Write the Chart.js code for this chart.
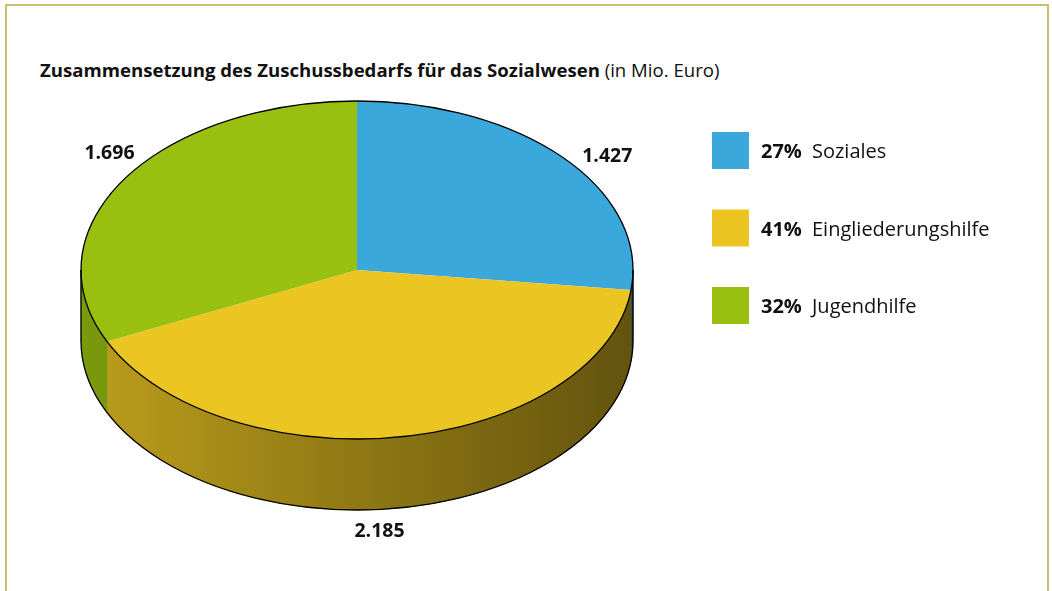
<!DOCTYPE html>
<html><head><meta charset="utf-8">
<script src="https://cdn.jsdelivr.net/npm/chart.js@4.4.1/dist/chart.umd.min.js"></script>
<style>
html,body{margin:0;padding:0;background:#fff;width:1052px;height:591px;overflow:hidden;}
#frame{position:absolute;left:5px;top:4px;width:1044px;height:640px;border:2px solid #cdbf72;box-sizing:border-box;}
#title{position:absolute;left:40px;top:57px;font-family:"Open Sans",sans-serif;font-size:18.6px;color:#111;white-space:nowrap;}
#title b{font-weight:700}
#c{position:absolute;left:0;top:0;}
</style></head>
<body>
<div id="frame"></div>
<div id="title"><b>Zusammensetzung des Zuschussbedarfs für das Sozialwesen</b> (in Mio. Euro)</div>
<canvas id="c" width="1052" height="591"></canvas>
<script>
// ---- data ----
const categories = ['Soziales', 'Eingliederungshilfe', 'Jugendhilfe'];
const values = [1427, 2185, 1696];
const colors = ['#3aa8db', '#ebc522', '#99c010'];

// ---- helpers ----
const total = values.reduce((a, b) => a + b, 0);
const fmt = v => String(v).replace(/\B(?=(\d{3})+(?!\d))/g, '.');
const pct = v => Math.round(v / total * 100) + '%';
function shade(hex, f) {
  const n = parseInt(hex.slice(1), 16);
  const r = Math.round(((n >> 16) & 255) * f), g = Math.round(((n >> 8) & 255) * f), b = Math.round((n & 255) * f);
  return `rgb(${r},${g},${b})`;
}

const TILT = 169 / 276;   // vertical squash of the pie
const DEPTH = 71;         // thickness of the 3D wall
const FONT = '"Open Sans", sans-serif';
const LABEL_R = 1.13;     // label distance (relative to the ellipse)
const LABEL_SHIFT = 0.087; // small clockwise shift of label angle

const pie3d = {
  id: 'pie3d',
  beforeDatasetsDraw(chart) {
    const ctx = chart.ctx;
    const arcs = chart.getDatasetMeta(0).data;
    const cx = arcs[0].x, cy = arcs[0].y, rx = arcs[0].outerRadius, ry = rx * TILT;
    // side walls (visible for angles in [0, PI])
    arcs.forEach((a, i) => {
      for (const k of [-2, 0, 2]) {
        const lo = k * Math.PI, hi = lo + Math.PI;
        const s = Math.max(a.startAngle, lo), e = Math.min(a.endAngle, hi);
        if (e <= s) continue;
        const g = ctx.createLinearGradient(cx - rx, 0, cx + rx, 0);
        g.addColorStop(0, shade(colors[i], 0.80));
        g.addColorStop(1, shade(colors[i], 0.42));
        ctx.save();
        ctx.beginPath();
        ctx.ellipse(cx, cy, rx, ry, 0, s, e, false);
        ctx.ellipse(cx, cy + DEPTH, rx, ry, 0, e, s, true);
        ctx.closePath();
        ctx.fillStyle = g;
        ctx.fill();
        ctx.strokeStyle = g; ctx.lineWidth = 0.6; ctx.stroke();
        ctx.restore();
      }
    });
    // squash the top face
    ctx.save();
    ctx.translate(cx, cy);
    ctx.scale(1, TILT);
    ctx.translate(-cx, -cy);
  },
  afterDatasetsDraw(chart) {
    const ctx = chart.ctx;
    ctx.restore();
    const arcs = chart.getDatasetMeta(0).data;
    const cx = arcs[0].x, cy = arcs[0].y, rx = arcs[0].outerRadius, ry = rx * TILT;
    // outlines
    ctx.save();
    ctx.strokeStyle = '#000';
    ctx.lineWidth = 1.3;
    ctx.beginPath();
    ctx.ellipse(cx, cy, rx, ry, 0, 0, Math.PI * 2);
    ctx.stroke();
    ctx.beginPath();
    ctx.moveTo(cx + rx, cy);
    ctx.lineTo(cx + rx, cy + DEPTH);
    ctx.ellipse(cx, cy + DEPTH, rx, ry, 0, 0, Math.PI, false);
    ctx.lineTo(cx - rx, cy);
    ctx.stroke();
    ctx.restore();
    // value labels
    ctx.save();
    ctx.fillStyle = '#111';
    ctx.font = 'bold 19.5px ' + FONT;
    ctx.textAlign = 'center';
    ctx.textBaseline = 'middle';
    arcs.forEach((a, i) => {
      const m = (a.startAngle + a.endAngle) / 2 + LABEL_SHIFT;
      const c = Math.cos(m), s = Math.sin(m);
      const x = cx + rx * LABEL_R * c;
      const y = cy + ry * LABEL_R * s + (s > 0 ? DEPTH : 0);
      ctx.fillText(fmt(values[i]), x, y);
    });
    ctx.restore();
    // legend
    ctx.save();
    ctx.textBaseline = 'middle';
    categories.forEach((name, i) => {
      const yc = 150.5 + i * 77.5;
      ctx.fillStyle = colors[i];
      ctx.fillRect(712, yc - 18.5, 37, 37);
      ctx.fillStyle = '#111';
      ctx.font = 'bold 20px ' + FONT;
      ctx.fillText(pct(values[i]), 761, yc + 2);
      ctx.font = '20px ' + FONT;
      ctx.fillText(name, 812, yc + 2);
    });
    ctx.restore();
  }
};

new Chart(document.getElementById('c'), {
  type: 'pie',
  data: {
    labels: categories,
    datasets: [{ data: values, backgroundColor: colors, borderWidth: 0, hoverOffset: 0, clip: false }]
  },
  options: {
    responsive: false,
    animation: false,
    events: [],
    radius: 276,
    layout: { padding: { left: 81, right: 419, top: 0, bottom: 51 } },
    plugins: { legend: { display: false }, tooltip: { enabled: false } }
  },
  plugins: [pie3d]
});
</script>
</body></html>
